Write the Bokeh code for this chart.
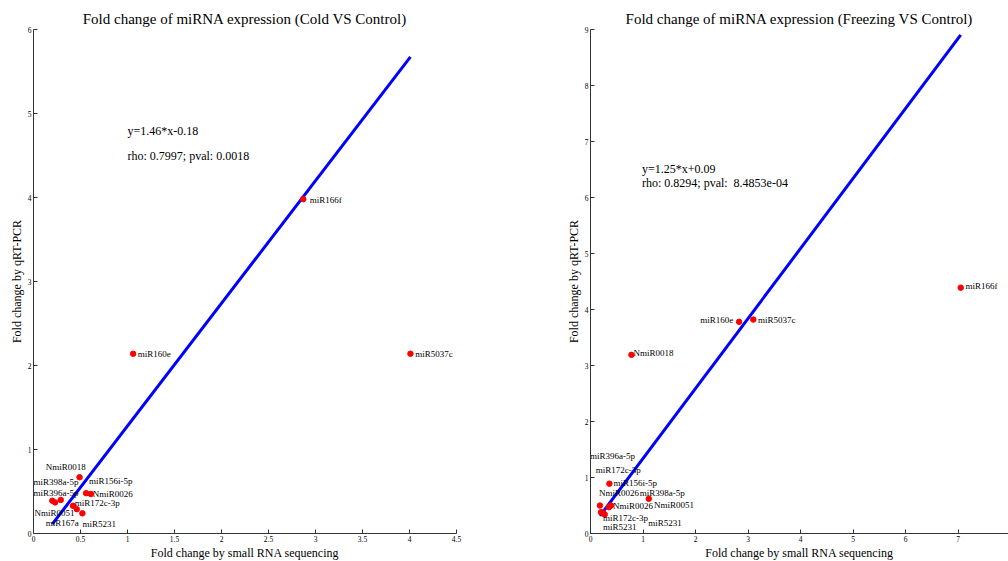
from bokeh.plotting import figure
from bokeh.layouts import row
from bokeh.models import ColumnDataSource, FixedTicker, Label, Range1d
from bokeh.core.properties import value
from bokeh.embed import file_html
from bokeh.resources import INLINE

FONT = "Liberation Serif"

# ---------------- Cold vs Control ----------------
cold_seq = [2.87, 1.06, 4.01, 0.49, 0.56, 0.61, 0.20, 0.23, 0.29, 0.42, 0.46, 0.52]
cold_qpcr = [3.98, 2.14, 2.14, 0.67, 0.48, 0.47, 0.39, 0.37, 0.40, 0.33, 0.29, 0.24]
cold_labels = ["miR166f", "miR160e", "miR5037c", "NmiR0018", "miR398a-5p", "miR156i-5p",
               "miR396a-5p", "NmiR0026", "miR172c-3p", "NmiR0051", "miR167a", "miR5231"]
cold_label_x = [2.94, 1.11, 4.06, 0.13, 0.00, 0.59, 0.00, 0.63, 0.44, 0.01, 0.13, 0.52]
cold_label_y = [3.97, 2.14, 2.14, 0.79, 0.61, 0.63, 0.485, 0.47, 0.36, 0.24, 0.13, 0.115]
cold_label_align = ["left"] * 12
cold_slope, cold_intercept = 1.46, -0.18
cold_eq = "y=1.46*x-0.18"
cold_stat = "rho: 0.7997; pval: 0.0018"
cold_xticks = [0, 0.5, 1, 1.5, 2, 2.5, 3, 3.5, 4, 4.5]
cold_yticks = [0, 1, 2, 3, 4, 5, 6]

# ---------------- Freezing vs Control ----------------
frz_seq = [7.05, 2.83, 3.10, 0.78, 0.36, 1.11, 0.18, 0.35, 0.39, 0.20, 0.27, 0.24]
frz_qpcr = [4.39, 3.78, 3.82, 3.19, 0.89, 0.62, 0.50, 0.47, 0.50, 0.38, 0.34, 0.37]
frz_labels = ["miR166f", "miR160e", "miR5037c", "NmiR0018", "miR396a-5p", "miR172c-3p",
              "miR156i-5p", "NmiR0026", "miR398a-5p", "NmiR0026", "NmiR0051",
              "miR172c-3p", "miR5231", "miR5231"]
frz_label_x = [7.14, 2.72, 3.19, 0.82, -0.01, 0.10, 0.44, 0.16, 0.94, 0.43, 1.21, 0.24, 0.24, 1.10]
frz_label_y = [4.42, 3.82, 3.82, 3.23, 1.39, 1.14, 0.90, 0.72, 0.73, 0.50, 0.51, 0.27, 0.125, 0.18]
frz_label_align = ["left", "right"] + ["left"] * 12
frz_slope, frz_intercept = 1.25, 0.09
frz_eq = "y=1.25*x+0.09"
frz_stat = "rho: 0.8294; pval:\u00a0 8.4853e-04"
frz_xticks = [0, 1, 2, 3, 4, 5, 6, 7, 8]
frz_yticks = [0, 1, 2, 3, 4, 5, 6, 7, 8, 9]


def make_panel(title, xs, ys, labels, lx, ly, lalign, slope, intercept, eq, stat,
               xticks, yticks, xmax, ymax, eq_pos, stat_pos, frame_w, bl, br):
    p = figure(frame_width=frame_w, frame_height=504, output_backend="svg",
               toolbar_location=None, x_range=Range1d(0, xmax), y_range=Range1d(0, ymax),
               min_border_left=bl, min_border_right=br, min_border_top=29,
               min_border_bottom=28, title=title)
    p.outline_line_color = None
    p.xgrid.visible = False
    p.ygrid.visible = False
    p.background_fill_color = "white"
    p.border_fill_color = "white"
    p.title.text_font = FONT
    p.title.text_font_size = "15px"
    p.title.text_font_style = "normal"
    p.title.align = "center"
    p.title.text_color = "black"
    p.title.standoff = 6
    for ax, ticks in ((p.xaxis[0], xticks), (p.yaxis[0], yticks)):
        ax.ticker = FixedTicker(ticks=ticks)
        ax.major_tick_in = 4
        ax.major_tick_out = 0
        ax.minor_tick_line_color = None
        ax.axis_line_color = "#333333"
        ax.major_tick_line_color = "#333333"
        ax.major_label_text_font = FONT
        ax.major_label_text_font_size = "7.5px"
        ax.major_label_text_color = "black"
        ax.major_label_standoff = 2
        ax.axis_label_text_font = FONT
        ax.axis_label_text_font_size = "12px"
        ax.axis_label_text_font_style = "normal"
        ax.axis_label_text_color = "black"
        ax.axis_label_standoff = 1
    p.xaxis.axis_label = "Fold change by small RNA sequencing"
    p.yaxis.axis_label = "Fold change by qRT-PCR"

    x0, x1 = min(xs), max(xs)
    p.line([x0, x1], [slope * x0 + intercept, slope * x1 + intercept],
           line_color="#0000ff", line_width=3)
    p.scatter(xs, ys, size=5.5, fill_color="#ff0000", line_color="#ff0000")
    src = ColumnDataSource(dict(x=lx, y=ly, t=labels, a=lalign))
    p.text(x="x", y="y", text="t", text_align="a", source=src,
           text_font=value(FONT), text_font_size="9px", text_baseline="middle",
           text_color="black")
    p.add_layout(Label(x=eq_pos[0], y=eq_pos[1], text=eq, text_font=FONT,
                       text_font_size="12px", text_baseline="middle", text_color="black"))
    p.add_layout(Label(x=stat_pos[0], y=stat_pos[1], text=stat, text_font=FONT,
                       text_font_size="12px", text_baseline="middle", text_color="black"))
    return p


p1 = make_panel("Fold change of miRNA expression (Cold VS Control)", cold_seq, cold_qpcr,
                cold_labels, cold_label_x, cold_label_y, cold_label_align,
                cold_slope, cold_intercept, cold_eq, cold_stat, cold_xticks, cold_yticks,
                4.5, 6, (1.0, 4.79), (1.0, 4.5), 423, 33, 44)
p2 = make_panel("Fold change of miRNA expression (Freezing VS Control)", frz_seq, frz_qpcr,
                frz_labels, frz_label_x, frz_label_y, frz_label_align,
                frz_slope, frz_intercept, frz_eq, frz_stat, frz_xticks, frz_yticks,
                7.96, 9, (0.98, 6.51), (0.98, 6.26), 418, 90, 0)

layout = row(p1, p2)
open("out.html", "w").write(file_html(layout, INLINE))
